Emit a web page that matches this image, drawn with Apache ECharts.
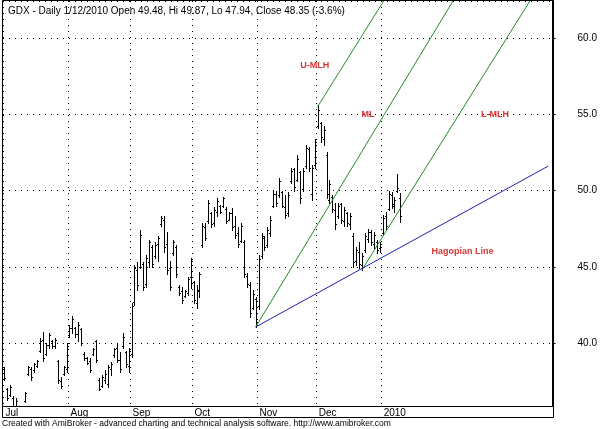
<!DOCTYPE html>
<html>
<head>
<meta charset="utf-8">
<script src="https://cdn.jsdelivr.net/npm/echarts@6/dist/echarts.min.js"></script>
<style>
  html, body { margin: 0; padding: 0; background: #fff; }
  #container { width: 600px; height: 429px; }
</style>
</head>
<body>
<div id="container"></div>
<script>
// GDX daily bars, [open, high, low, close] per trading day
var julBars = [
  [38.3,38.4,37.6,37.7],[37.0,37.05,36.26,36.4],[36.6,37.25,36.5,37.1],[36.4,36.5,35.8,35.9],
  [35.9,36.4,35.6,36.2],[35.8,35.9,35.2,35.3],[35.2,35.7,35.0,35.6],[36.2,36.8,36.1,36.7],
  [38.0,38.5,37.9,38.4],[38.3,38.4,37.6,37.8],[38.2,38.7,38.1,38.6],[38.5,38.9,38.4,38.8],
  [39.5,40.3,39.4,40.1],[40.2,40.7,38.8,39.0],[39.3,40.0,39.2,39.9],[39.9,40.65,39.7,40.5],
  [40.1,40.2,39.7,39.8],[39.8,40.3,39.7,40.2],[38.8,38.9,37.4,37.6],[37.5,37.8,37.05,37.2],
  [38.0,38.5,37.9,38.4],[38.3,40.0,38.1,39.8]
];
var augBars = [
  [40.5,41.2,40.4,41.0],[41.0,41.8,40.65,41.6],[41.0,41.05,40.4,40.6],[40.6,41.4,40.1,41.2],
  [40.9,41.0,39.9,40.0],[39.3,39.4,38.9,39.0],[39.0,39.1,38.6,38.7],[38.8,39.0,38.1,38.2],
  [39.3,39.7,39.2,39.6],[40.1,40.2,38.75,38.9],[37.6,37.7,36.9,37.0],[37.2,37.9,37.1,37.8],
  [37.6,38.2,37.4,38.0],[37.3,38.55,37.1,38.4],[38.3,38.75,37.9,38.6],[39.2,39.7,39.1,39.6],
  [39.7,40.0,38.75,38.9],[38.9,39.4,38.1,38.3],[39.8,40.65,39.7,40.4],[39.4,39.5,38.4,38.6],
  [38.5,39.7,38.1,39.5]
];
var sepBars = [
  [39.3,42.6,39.1,42.4],[42.7,45.1,42.5,44.9],[44.8,45.3,43.5,43.8],[45.0,47.4,44.9,47.1],
  [45.2,45.3,43.5,43.7],[43.9,45.8,43.7,45.6],[45.3,46.75,45.0,46.6],[46.3,46.4,45.0,45.2],
  [45.7,46.6,45.6,46.4],[46.5,47.0,45.4,46.9],[47.8,48.3,47.7,48.2],[48.1,48.3,46.0,46.3],
  [46.5,47.3,44.5,44.8],[44.9,45.4,43.5,43.7],[45.9,46.75,45.8,46.6],[46.3,46.4,44.3,44.5],
  [43.7,43.8,43.15,43.3],[43.4,43.7,42.6,42.8],[43.1,43.5,43.0,43.4],[43.3,44.3,43.15,44.2],
  [44.3,45.6,43.6,45.4]
];
var octBars = [
  [44.0,44.1,42.6,42.8],[42.6,43.8,42.3,43.5],[43.4,44.65,43.0,44.5],[46.4,47.9,46.3,47.7],
  [47.6,47.9,46.75,46.9],[48.0,49.4,47.9,49.2],[48.5,48.6,47.6,47.8],[47.9,48.9,47.7,48.7],
  [48.6,49.5,48.3,49.3],[49.0,49.05,48.5,48.6],[49.0,49.6,48.9,49.5],[48.8,48.9,47.9,48.0],
  [48.1,48.6,48.05,48.5],[48.5,48.85,47.4,47.6],[47.7,48.3,46.9,47.1],[47.2,47.6,46.3,46.5],
  [46.7,47.9,46.6,47.7],[46.6,46.75,44.3,44.5],[44.4,44.6,43.7,43.9],[43.8,44.0,41.7,42.0],
  [42.3,43.5,42.2,43.2],[42.9,43.0,41.05,41.4]
];
var novBars = [
  [42.4,45.8,42.2,45.5],[45.7,47.2,45.6,47.0],[46.9,47.0,46.1,46.3],[46.4,47.6,46.3,47.4],
  [47.2,48.3,47.0,48.1],[49.0,50.0,48.9,49.8],[49.8,50.0,49.0,49.2],[49.7,50.8,49.6,50.6],
  [49.9,50.0,48.9,49.0],[48.9,49.7,48.2,48.4],[48.5,49.9,48.3,49.7],[50.6,51.5,50.5,51.3],
  [51.4,51.5,50.0,50.2],[50.7,52.3,50.6,52.1],[51.2,51.3,49.2,49.5],[50.1,51.5,50.0,51.3],
  [51.6,53.0,51.5,52.8],[52.7,52.85,51.3,51.5],[49.8,51.7,49.4,51.5],[51.7,53.4,51.5,53.2]
];
var decBars = [
  [54.2,55.6,54.1,55.3],[54.4,54.5,53.2,53.5],[53.4,54.2,53.0,54.0],[52.3,52.5,49.5,49.8],
  [49.4,50.7,49.2,50.4],[49.6,49.7,48.6,48.8],[48.7,49.2,47.5,47.8],[48.3,49.2,48.2,49.0],
  [49.1,49.2,47.9,48.1],[48.0,48.9,47.7,48.7],[48.5,48.6,47.7,47.9],[47.8,48.5,47.5,48.3],
  [47.0,47.2,45.0,45.3],[45.4,46.3,45.1,46.1],[46.0,46.6,44.9,45.2],[45.1,45.9,44.8,45.7],
  [46.1,47.2,46.0,47.0],[46.8,47.5,46.6,47.3],[47.3,47.4,46.4,46.6],[46.5,47.3,46.2,47.1],
  [46.6,46.75,45.9,46.1],[46.2,46.6,46.0,46.5]
];
var janBars = [
  [47.2,48.4,47.1,48.2],[48.3,48.6,47.5,47.7],[48.8,50.0,48.7,49.8],[49.7,49.9,48.85,49.1],
  [49.0,49.6,48.6,49.4],[50.0,51.1,49.9,50.16],[49.48,49.87,47.94,48.35]
];

// axis
var months = ['Jul', 'Aug', 'Sep', 'Oct', 'Nov', 'Dec', '2010'];
var monthStartIdx = [0, 22, 43, 64, 86, 106, 128];
var totalSlots = 186;
var yMin = 35.87, yMax = 62.43;

// pitchfork and Hagopian line, [bar index, price]
var medianLine = [[85, 41.05], [160, 65.05]];
var upperLine = [[106, 55.5], [130, 62.95]];
var lowerLine = [[121, 44.8], [180, 63.1]];
var hagopianLine = [[85, 41.05], [184, 51.6]];

var noteText = ['U-MLH', 'ML', 'L-MLH', 'Hagopian Line'];
var noteAt = [[105, 58.2], [123, 55.0], [166, 55.0], [155, 46.0]];

var titleText = 'GDX - Daily 1/12/2010 Open 49.48, Hi 49.87, Lo 47.94, Close 48.35 (-3.6%)';
var footerText = 'Created with AmiBroker - advanced charting and technical analysis software. http://www.amibroker.com';

var FONT = '"Liberation Sans", Arial, sans-serif';

window.onload = function () {
  var bars = [].concat(julBars, augBars, sepBars, octBars, novBars, decBars, janBars);
  var ohlc = [];
  for (var i = 0; i < bars.length; i++) {
    ohlc.push([i, bars[i][0], bars[i][1], bars[i][2], bars[i][3]]);
  }
  var slots = [];
  for (var s = 0; s < totalSlots; s++) slots.push(String(s));

  var isMonthStart = function (index) { return monthStartIdx.indexOf(index) >= 0; };

  var notes = [];
  for (var n = 0; n < noteText.length; n++) {
    notes.push({ name: noteText[n], value: noteAt[n] });
  }

  var myChart = echarts.init(document.getElementById('container'));
  myChart.setOption({
    animation: false,
    backgroundColor: '#fff',
    title: {
      text: titleText, left: 3, top: 1,
      textStyle: { fontFamily: FONT, fontSize: 10, fontWeight: 'normal', color: '#000' }
    },
    graphic: [
      { type: 'rect', shape: { x: 2.5, y: 0.5, width: 551, height: 417 },
        style: { fill: 'none', stroke: '#000', lineWidth: 1 }, z: 100 },
      { type: 'text', left: 2, top: 419,
        style: { text: footerText, font: '8.5px ' + FONT, fill: '#000' } }
    ],
    grid: { left: 3, right: 47, top: 1, bottom: 23, containLabel: false },
    xAxis: {
      type: 'category',
      data: slots,
      boundaryGap: true,
      axisLine: { lineStyle: { color: '#000', width: 1 } },
      axisTick: { interval: isMonthStart, alignWithLabel: true, length: 4, lineStyle: { color: '#000' } },
      axisLabel: {
        interval: isMonthStart,
        formatter: function (v, idx) { return months[monthStartIdx.indexOf(idx)]; },
        align: 'left', margin: 2, padding: [0, 0, 0, 1],
        color: '#000', fontFamily: FONT, fontSize: 10
      },
      splitLine: { show: true, interval: isMonthStart, lineStyle: { color: '#000', type: [1, 5], width: 1 } }
    },
    yAxis: {
      type: 'value', position: 'right',
      min: yMin, max: yMax, splitNumber: 5,
      axisLine: { show: true, lineStyle: { color: '#000' } },
      axisTick: { show: true, length: 3, lineStyle: { color: '#000' } },
      axisLabel: {
        showMinLabel: false, showMaxLabel: false, margin: 25,
        formatter: function (v) { return v.toFixed(1); },
        color: '#000', fontFamily: FONT, fontSize: 10
      },
      splitLine: { show: true, lineStyle: { color: '#000', type: [1, 5], width: 1 } }
    },
    series: [
      {
        type: 'custom', name: 'GDX', data: ohlc, clip: true,
        encode: { x: 0, y: [1, 2, 3, 4] },
        renderItem: function (params, api) {
          var idx = api.value(0);
          var pO = api.coord([idx, api.value(1)]);
          var pH = api.coord([idx, api.value(2)]);
          var pL = api.coord([idx, api.value(3)]);
          var pC = api.coord([idx, api.value(4)]);
          var x = Math.round(pH[0]) + 0.5;
          var yo = Math.round(pO[1]) + 0.5, yc = Math.round(pC[1]) + 0.5;
          var st = { stroke: '#000', lineWidth: 1 };
          return {
            type: 'group', children: [
              { type: 'line', shape: { x1: x, y1: Math.round(pH[1]), x2: x, y2: Math.round(pL[1]) + 1 }, style: st },
              { type: 'line', shape: { x1: x - 1.5, y1: yo, x2: x - 0.5, y2: yo }, style: st },
              { type: 'line', shape: { x1: x + 0.5, y1: yc, x2: x + 1.5, y2: yc }, style: st }
            ]
          };
        }
      },
      { type: 'line', data: medianLine, symbol: 'none', clip: true, silent: true,
        lineStyle: { color: '#228b22', width: 1 } },
      { type: 'line', data: upperLine, symbol: 'none', clip: true, silent: true,
        lineStyle: { color: '#228b22', width: 1 } },
      { type: 'line', data: lowerLine, symbol: 'none', clip: true, silent: true,
        lineStyle: { color: '#228b22', width: 1 } },
      { type: 'line', data: hagopianLine, symbol: 'none', clip: true, silent: true,
        lineStyle: { color: '#2020b0', width: 1 } },
      {
        type: 'scatter', data: notes, symbolSize: 0, silent: true,
        label: {
          show: true, position: 'inside', formatter: '{b}',
          color: '#cc0000', fontFamily: FONT, fontSize: 9, fontWeight: 'bold'
        }
      }
    ]
  });
};
</script>
</body>
</html>
